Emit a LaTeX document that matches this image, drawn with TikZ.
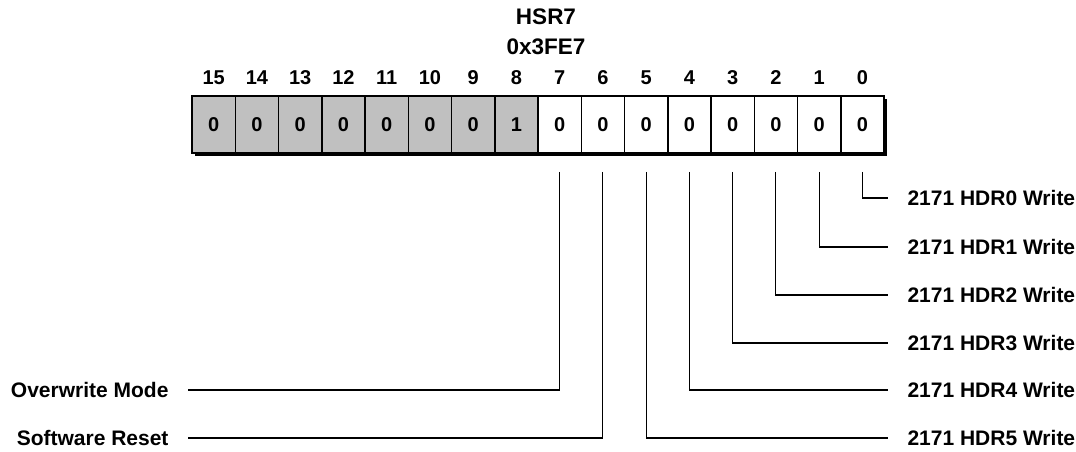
\documentclass[tikz,border=0pt]{standalone}
\usepackage{fontspec}
\setmainfont{Liberation Sans}
\definecolor{regGray}{RGB}{192,192,192}

\begin{document}
\begin{tikzpicture}[x=1pt, y=1pt, line cap=rect,
                    cell/.style={draw, line width=1.5pt, minimum width=43.25pt,
                                 minimum height=57pt, inner sep=0pt,
                                 font=\fontsize{20}{23}\selectfont\bfseries},
                    bitnum/.style={font=\fontsize{20}{23}\selectfont\bfseries},
                    title/.style={font=\fontsize{22.5}{26}\selectfont\bfseries},
                    lbl/.style={inner sep=0pt, outer xsep=19.5pt,
                                font=\fontsize{21}{24}\selectfont\bfseries},
                    conn/.style={line width=1.2pt, line cap=butt, shorten <=18pt}
                   ]
\useasboundingbox (0,0) rectangle (1076,-452);

\node[title] (reg) at (546,-17) {HSR7};
\node[title] (addr) at (546,-47) {0x3FE7};

% shadow of the register
\fill [black] (195,-99) rectangle (887,-156);

\foreach \b [evaluate={
                       \x=192+43.25*(15.5-\b);
                       \v=int(\b==8);
                       \flag=int(\b>7);
                       }] in {0,...,15}{
    \ifnum\flag=1 \def\cellfill{regGray}\else\def\cellfill{white}\fi
    \node[cell, fill=\cellfill] (c\b) at (\x,-124.5) {\v};
    \node[bitnum] (n\b) at (\x,-78) {\b};
  }

% right hand labels
\foreach \b/\y in {0/-198,1/-247,2/-295,3/-343,4/-390,5/-438}{
    \node[lbl, anchor=west] (h\b) at (888,\y) {2171 HDR\b{} Write};
    \draw[conn] (c\b.south) |- (h\b.west);
  }

% left hand labels
\node[lbl, anchor=east] (ow) at (188,-390) {Overwrite Mode};
\node[lbl, anchor=east] (sr) at (188,-438) {Software Reset};
\draw[conn] (c7.south) |- (ow.east);
\draw[conn] (c6.south) |- (sr.east);
\end{tikzpicture}
\end{document}
